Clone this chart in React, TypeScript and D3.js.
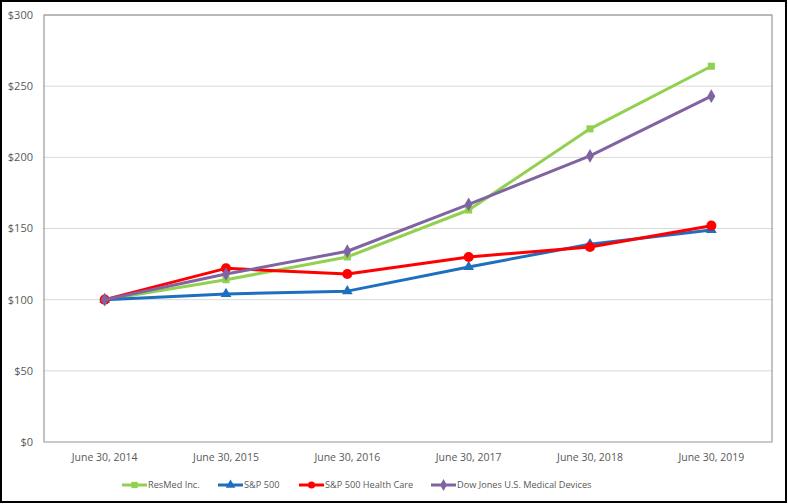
import React, { useEffect, useRef } from 'react';
import * as d3 from 'd3';

const years = ['June 30, 2014', 'June 30, 2015', 'June 30, 2016', 'June 30, 2017', 'June 30, 2018', 'June 30, 2019'];
const resmed = [100, 114, 130, 163, 220, 264];
const sp500 = [100, 104, 106, 123, 139, 149];
const spHealth = [100, 122, 118, 130, 137, 152];
const dowMed = [100, 118, 134, 167, 201, 243];
const yTicks = [0, 50, 100, 150, 200, 250, 300];

const seriesNames = ['ResMed Inc.', 'S&P 500', 'S&P 500 Health Care', 'Dow Jones U.S. Medical Devices'];
const seriesColors = ['#92d050', '#1f6fbf', '#ff0000', '#8064a2'];
const seriesMarkers = ['square', 'triangle', 'circle', 'diamond'];

const App: React.FC = () => {
  const ref = useRef<SVGSVGElement>(null);

  useEffect(() => {
    const W = 788, H = 504;
    const margin = { top: 15, right: 16, bottom: 62, left: 44 };
    const width = W - margin.left - margin.right;
    const height = H - margin.top - margin.bottom;
    const font = '"Open Sans", "DejaVu Sans", sans-serif';

    const svg = d3.select(ref.current);
    svg.selectAll('*').remove();

    svg.append('rect').attr('width', W).attr('height', H).attr('fill', '#fff');
    svg.append('rect')
      .attr('x', 1).attr('y', 1).attr('width', W - 3).attr('height', H - 3)
      .attr('fill', 'none').attr('stroke', '#000').attr('stroke-width', 2);

    const g = svg.append('g').attr('transform', `translate(${margin.left},${margin.top})`);

    const x = d3.scaleBand().domain(years).range([0, width]);
    const y = d3.scaleLinear().domain([0, 300]).range([height, 0]);

    // gridlines
    g.selectAll('.grid').data(yTicks).enter().append('line')
      .attr('x1', 0).attr('x2', width)
      .attr('y1', d => y(d)).attr('y2', d => y(d))
      .attr('stroke', '#d9d9d9').attr('stroke-width', 1);

    // plot border
    g.append('rect').attr('x', 0).attr('y', 0).attr('width', width).attr('height', height)
      .attr('fill', 'none').attr('stroke', '#868686').attr('stroke-width', 1);
    g.append('line').attr('x1', 0).attr('x2', width).attr('y1', height).attr('y2', height)
      .attr('stroke', '#d9d9d9');

    // y labels
    g.selectAll('.ylab').data(yTicks).enter().append('text')
      .attr('x', -11).attr('y', d => y(d)).attr('dy', '0.35em')
      .attr('text-anchor', 'end').attr('font-family', font).attr('font-size', 11)
      .attr('fill', '#595959').text(d => `$${d}`);

    // x labels
    g.selectAll('.xlab').data(years).enter().append('text')
      .attr('x', d => (x(d) as number) + x.bandwidth() / 2).attr('y', height + 19)
      .attr('text-anchor', 'middle').attr('font-family', font).attr('font-size', 10.5)
      .attr('fill', '#595959').text(d => d);

    const allSeries = [resmed, sp500, spHealth, dowMed];
    const cx = (i: number) => (x(years[i]) as number) + x.bandwidth() / 2;

    const symbolFor = (m: string) => {
      if (m === 'square') return d3.symbol(d3.symbolSquare, 50);
      if (m === 'triangle') return d3.symbol(d3.symbolTriangle, 50);
      if (m === 'circle') return d3.symbol(d3.symbolCircle, 80);
      return d3.symbol(d3.symbolDiamond, 55);
    };

    allSeries.forEach((vals, si) => {
      const line = d3.line<number>().x((_, i) => cx(i)).y(d => y(d));
      g.append('path').datum(vals).attr('d', line)
        .attr('fill', 'none').attr('stroke', seriesColors[si]).attr('stroke-width', 3)
        .attr('stroke-linejoin', 'round');
      g.selectAll(`.m${si}`).data(vals).enter().append('path')
        .attr('transform', (d, i) => `translate(${cx(i)},${y(d)})`)
        .attr('d', symbolFor(seriesMarkers[si])())
        .attr('fill', seriesColors[si]);
    });

    // legend
    const legendX = [122, 218, 299, 431];
    const ly = 485;
    seriesNames.forEach((name, si) => {
      const lg = svg.append('g').attr('transform', `translate(${legendX[si]},${ly})`);
      lg.append('line').attr('x1', 0).attr('x2', 25).attr('y1', 0).attr('y2', 0)
        .attr('stroke', seriesColors[si]).attr('stroke-width', 3);
      lg.append('path').attr('transform', 'translate(12.5,0)')
        .attr('d', symbolFor(seriesMarkers[si]).size(40)())
        .attr('fill', seriesColors[si]);
      lg.append('text').attr('x', 26).attr('y', 0).attr('dy', '0.35em')
        .attr('font-family', font).attr('font-size', 9.2).attr('fill', '#595959')
        .text(name);
    });
  }, []);

  return (
    <div style={{ position: 'absolute', left: 0, top: 0 }}>
      <svg ref={ref} width={788} height={504} style={{ display: 'block' }} />
    </div>
  );
};

export default App;
